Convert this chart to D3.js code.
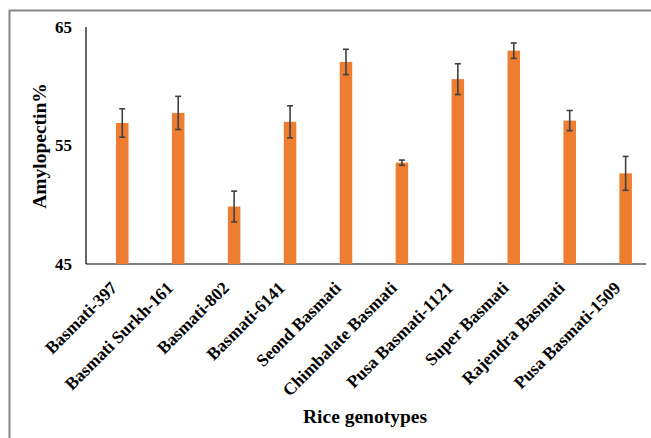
<!DOCTYPE html>
<html>
<head>
<meta charset="utf-8">
<script src="https://cdn.jsdelivr.net/npm/d3@7"></script>
</head>
<body style="margin:0">
<script>
const categories = ["Basmati-397","Basmati Surkh-161","Basmati-802","Basmati-6141","Seond Basmati","Chimbalate Basmati","Pusa Basmati-1121","Super Basmati","Rajendra Basmati","Pusa Basmati-1509"];
const values = [56.9, 57.75, 49.85, 57.0, 62.05, 53.55, 60.6, 63.0, 57.1, 52.65];
const errors = [1.2, 1.4, 1.3, 1.35, 1.07, 0.22, 1.3, 0.65, 0.85, 1.43];
const yTicks = [45, 55, 65];

const FONT = "'Liberation Serif', 'Times New Roman', Tinos, serif";
const W = 651, H = 438;
const svg = d3.select("body").append("svg").attr("width", W).attr("height", H).style("display","block");

// outer frame (top and left edges visible)
svg.append("path").attr("d", `M9.5,${H} V10.5 H${W}`).attr("fill","none").attr("stroke","#858585").attr("stroke-width",2);

const y = d3.scaleLinear().domain([45, 65]).range([264, 27]);
const x = d3.scaleBand().domain(categories).range([94.3, 653.6]).paddingInner(0.776).paddingOuter(0.388);

// axes lines
svg.append("line").attr("x1",86).attr("x2",86).attr("y1",y(65)).attr("y2",y(45)).attr("stroke","#000").attr("stroke-width",1.2);
svg.append("line").attr("x1",86).attr("x2",646).attr("y1",y(45)).attr("y2",y(45)).attr("stroke","#000").attr("stroke-width",1.2);

// y tick labels
const yAxis = d3.axisLeft(y).tickValues(yTicks).tickSize(0).tickPadding(14);
const gy = svg.append("g").attr("transform","translate(86,0)").call(yAxis);
gy.select(".domain").remove();
gy.selectAll("text").attr("fill","#000").style("font-family",FONT).style("font-weight","bold").style("font-size","17px");

// bars
svg.selectAll("rect.bar").data(values).join("rect").attr("class","bar")
  .attr("x",(d,i)=>x(categories[i])).attr("width",x.bandwidth())
  .attr("y",d=>y(d)).attr("height",d=>y(45)-y(d)).attr("fill","#ED7D31");

// error bars
const eg = svg.append("g").attr("stroke","#404040").attr("stroke-width",1.6);
values.forEach((v,i)=>{
  const cx = x(categories[i]) + x.bandwidth()/2;
  const t = y(v+errors[i]), b = y(v-errors[i]);
  eg.append("line").attr("x1",cx).attr("x2",cx).attr("y1",t).attr("y2",b);
  eg.append("line").attr("x1",cx-3).attr("x2",cx+3).attr("y1",t).attr("y2",t);
  eg.append("line").attr("x1",cx-3).attr("x2",cx+3).attr("y1",b).attr("y2",b);
});

// x category labels
svg.selectAll("text.cat").data(categories).join("text").attr("class","cat")
  .attr("transform",d=>`translate(${x(d)+x.bandwidth()/2-4},289) rotate(-45)`)
  .attr("text-anchor","end").style("font-family",FONT).style("font-weight","bold")
  .style("font-size","17.5px").attr("fill","#000").text(d=>d);

// axis titles
svg.append("text").attr("x",365).attr("y",423).attr("text-anchor","middle")
  .style("font-family",FONT).style("font-weight","bold").style("font-size","19.5px").attr("fill","#000").text("Rice genotypes");
svg.append("text").attr("transform","translate(46,146) rotate(-90)").attr("text-anchor","middle")
  .style("font-family",FONT).style("font-weight","bold").style("font-size","19.5px").attr("fill","#000").text("Amylopectin%");
</script>
</body>
</html>
